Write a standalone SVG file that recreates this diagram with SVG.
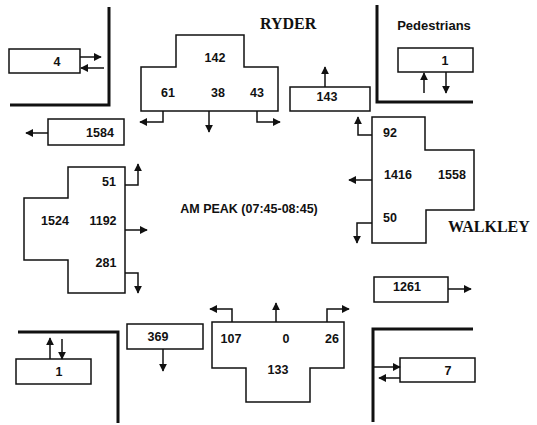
<svg xmlns="http://www.w3.org/2000/svg" width="537" height="425" viewBox="0 0 537 425">
<defs>
<marker id="ah" viewBox="0 0 10 10" refX="9" refY="5" markerWidth="8" markerHeight="8" markerUnits="userSpaceOnUse" orient="auto">
<path d="M0,0 L10,5 L0,10 Z" fill="#111"/>
</marker>
</defs>
<style>
.bx{fill:#fff;stroke:#111;stroke-width:1.5}
.ln{fill:none;stroke:#111;stroke-width:1.5;marker-end:url(#ah)}
.wall{fill:none;stroke:#111;stroke-width:3}
.n{font-family:"Liberation Sans",Arial,sans-serif;font-weight:bold;font-size:12.5px;fill:#111;text-anchor:middle}
.st{font-family:"Liberation Serif","Times New Roman",serif;font-weight:bold;font-size:16px;fill:#111}
</style>
<rect width="537" height="425" fill="#fff"/>

<g id="walls">
<path class="wall" d="M109,7 V105 H10"/>
<path class="wall" d="M377,5 V102 H473"/>
<path class="wall" d="M18,332 H118 V423"/>
<path class="wall" d="M473,329 H373 V422"/>
</g>

<g id="labels">
<text class="st" x="260" y="29">RYDER</text>
<text class="st" x="448" y="232">WALKLEY</text>
<text class="n" x="434" y="30" style="font-size:13px">Pedestrians</text>
<text class="n" x="249" y="213">AM PEAK (07:45-08:45)</text>
</g>

<g id="north">
<path class="bx" d="M176,35 H244 V67 H278 V111 H141 V67 H176 Z"/>
<text class="n" x="215" y="62">142</text>
<text class="n" x="168" y="97">61</text>
<text class="n" x="218" y="97">38</text>
<text class="n" x="257" y="97">43</text>
</g>

<g id="east">
<path class="bx" d="M372,117 H425 V150 H474 V210 H426 V243 H372 Z"/>
<text class="n" x="390" y="137">92</text>
<text class="n" x="398" y="179">1416</text>
<text class="n" x="452" y="179">1558</text>
<text class="n" x="390" y="222">50</text>
</g>

<g id="west">
<path class="bx" d="M68,167 H125 V293 H68 V260 H24 V198 H68 Z"/>
<text class="n" x="109" y="186">51</text>
<text class="n" x="55" y="225">1524</text>
<text class="n" x="103" y="225">1192</text>
<text class="n" x="106" y="267">281</text>
</g>

<g id="south">
<path class="bx" d="M212,322 H344 V368 H310 V402 H246 V368 H212 Z"/>
<text class="n" x="231" y="343">107</text>
<text class="n" x="286" y="343">0</text>
<text class="n" x="332" y="343">26</text>
<text class="n" x="278" y="374">133</text>
</g>

<g id="box-4">
<rect class="bx" x="9" y="49" width="71" height="24"/>
<text class="n" x="57" y="66">4</text>
</g>
<g id="box-1584">
<rect class="bx" x="48" y="119" width="76" height="26"/>
<text class="n" x="100" y="137">1584</text>
</g>
<g id="box-143">
<rect class="bx" x="290" y="87" width="80" height="24"/>
<text class="n" x="327" y="101">143</text>
</g>
<g id="box-ped-ne">
<rect class="bx" x="398" y="48" width="75" height="24"/>
<text class="n" x="445" y="65">1</text>
</g>
<g id="box-1261">
<rect class="bx" x="374" y="277" width="74" height="25"/>
<text class="n" x="407" y="291">1261</text>
</g>
<g id="box-369">
<rect class="bx" x="127" y="324" width="76" height="25"/>
<text class="n" x="158" y="341">369</text>
</g>
<g id="box-ped-sw">
<rect class="bx" x="16" y="359" width="75" height="25"/>
<text class="n" x="59" y="376">1</text>
</g>
<g id="box-7">
<rect class="bx" x="400" y="358" width="75" height="24"/>
<text class="n" x="448" y="375">7</text>
</g>

<g id="connectors">
<path class="ln" d="M80,57 H101"/>
<path class="ln" d="M104,68 H81"/>
<path class="ln" d="M48,133 H26"/>
<path class="ln" d="M163,111 V122 H140"/>
<path class="ln" d="M209,111 V132"/>
<path class="ln" d="M257,111 V122 H280"/>
<path class="ln" d="M325,87 V67"/>
<path class="ln" d="M424,93 V73"/>
<path class="ln" d="M446,72 V93"/>
<path class="ln" d="M372,135 H358 V117"/>
<path class="ln" d="M372,180 H349"/>
<path class="ln" d="M372,223 H357 V243"/>
<path class="ln" d="M448,289 H471"/>
<path class="ln" d="M125,185 H138 V164"/>
<path class="ln" d="M125,230 H147"/>
<path class="ln" d="M125,273 H138 V293"/>
<path class="ln" d="M232,322 V309 H210"/>
<path class="ln" d="M276,322 V303"/>
<path class="ln" d="M327,322 V309 H349"/>
<path class="ln" d="M163,349 V371"/>
<path class="ln" d="M50,359 V338"/>
<path class="ln" d="M62,339 V359"/>
<path class="ln" d="M373,367 H400"/>
<path class="ln" d="M400,378 H379"/>
</g>
</svg>
